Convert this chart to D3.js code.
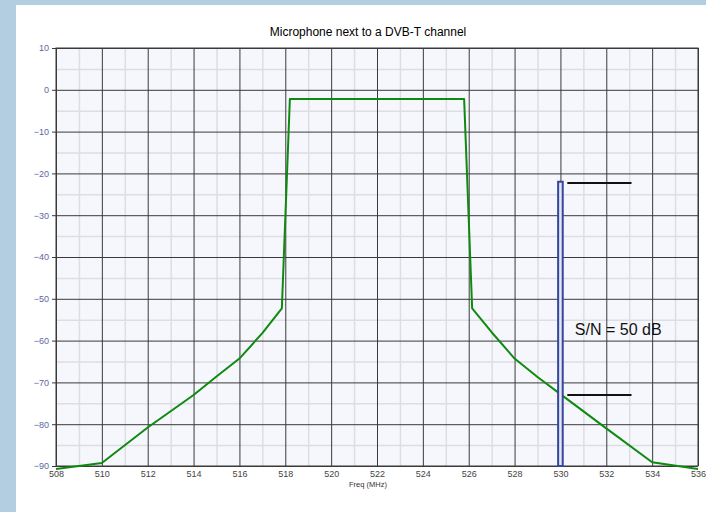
<!DOCTYPE html>
<html>
<head>
<meta charset="utf-8">
<script src="https://cdn.jsdelivr.net/npm/d3@7"></script>
<style>
  body { margin: 0; background: #b3cde1; }
  svg { display: block; font-family: Arial, "Liberation Sans", sans-serif; }
</style>
</head>
<body>
<div id="chart"></div>
<script>
// spectrum of the DVB-T channel (MHz, dB)
var freqs  = [508, 510, 512, 514, 515, 516, 517, 517.85, 518.2, 525.8, 526.15, 527, 528, 529, 530, 532, 534, 536];
var levels = [-90.7, -89.3, -80.8, -73, -68.6, -64.3, -58.2, -52.3, -2.2, -2.2, -52.3, -58, -64.3, -68.7, -72.8, -81, -89.1, -90.7];

// microphone carrier
var micFreq = [529.9, 530.1];
var micLevel = -22;

// S/N marker lines
var markerFreq = [530.3, 533.1];
var markerLevels = [-22.3, -73];
var snText = "S/N = 50 dB";
var snPos = [530.63, -58.7];

var xTicks = d3.range(508, 537, 2);
var xMinor = d3.range(509, 536, 2);
var yTicks = d3.range(-90, 11, 10);
var yMinor = d3.range(-85, 10, 10);

var w = 706, h = 512;
var plotL = 56, plotR = 698, plotT = 48, plotB = 466;

var svg = d3.select("#chart").append("svg")
    .attr("width", w)
    .attr("height", h);

// white panel
svg.append("rect")
    .attr("x", 16).attr("y", 5)
    .attr("width", w - 16).attr("height", h - 5)
    .attr("fill", "#ffffff");

var x = d3.scaleLinear().domain([508, 536]).range([plotL, plotR]);
var y = d3.scaleLinear().domain([-90, 10]).range([plotB, plotT]);

svg.append("rect")
    .attr("x", plotL).attr("y", plotT)
    .attr("width", plotR - plotL).attr("height", plotB - plotT)
    .attr("fill", "#f6f7fc");

// minor grid
svg.append("g")
    .attr("transform", "translate(0," + plotB + ")")
    .call(d3.axisBottom(x).tickValues(xMinor).tickSize(-(plotB - plotT)).tickFormat(""))
    .call(function(g) { g.select(".domain").remove(); })
    .selectAll("line").attr("stroke", "#dedde3").attr("stroke-width", 1.5);

svg.append("g")
    .attr("transform", "translate(" + plotL + ",0)")
    .call(d3.axisLeft(y).tickValues(yMinor).tickSize(-(plotR - plotL)).tickFormat(""))
    .call(function(g) { g.select(".domain").remove(); })
    .selectAll("line").attr("stroke", "#dedde3").attr("stroke-width", 1.5);

// major grid
svg.append("g")
    .attr("transform", "translate(0," + plotB + ")")
    .call(d3.axisBottom(x).tickValues(xTicks).tickSize(-(plotB - plotT)).tickFormat(""))
    .call(function(g) { g.select(".domain").remove(); })
    .selectAll("line").attr("stroke", "#3a3a3a");

svg.append("g")
    .attr("transform", "translate(" + plotR + ",0)")
    .call(d3.axisLeft(y).tickValues(yTicks).tickSize(plotR - plotL).tickFormat(""))
    .call(function(g) { g.select(".domain").remove(); })
    .selectAll("line").attr("stroke", "#3a3a3a");

svg.append("rect")
    .attr("x", plotL).attr("y", plotT)
    .attr("width", plotR - plotL).attr("height", plotB - plotT)
    .attr("fill", "none")
    .attr("stroke", "#3a3a3a");

// axes with labels
var yAxis = svg.append("g")
    .attr("transform", "translate(" + plotL + ",0)")
    .call(d3.axisLeft(y).tickValues(yTicks).tickSize(4).tickPadding(3));
yAxis.select(".domain").remove();
yAxis.selectAll("line").attr("stroke", "#3a3a3a");
yAxis.selectAll("text").attr("fill", "#5a68a6").attr("font-size", 9).attr("font-family", "Arial, 'Liberation Sans', sans-serif");

var xAxis = svg.append("g")
    .attr("transform", "translate(0," + plotB + ")")
    .call(d3.axisBottom(x).tickValues(xTicks).tickSize(0).tickPadding(5));
xAxis.select(".domain").remove();
xAxis.selectAll("text").attr("fill", "#444").attr("font-size", 9).attr("font-family", "Arial, 'Liberation Sans', sans-serif");

// spectrum curve
var line = d3.line()
    .x(function(d, i) { return x(freqs[i]); })
    .y(function(d) { return y(d); });

svg.append("path")
    .datum(levels)
    .attr("d", line)
    .attr("fill", "none")
    .attr("stroke", "#0f8a10")
    .attr("stroke-width", 2)
    .attr("stroke-linejoin", "round");

// microphone bar
svg.append("rect")
    .attr("x", x(micFreq[0]))
    .attr("y", y(micLevel))
    .attr("width", x(micFreq[1]) - x(micFreq[0]))
    .attr("height", y(-90) - y(micLevel))
    .attr("fill", "#e4e7ef")
    .attr("stroke", "#34479e")
    .attr("stroke-width", 2);

// S/N markers
svg.selectAll(".marker")
    .data(markerLevels)
    .enter()
    .append("line")
    .attr("class", "marker")
    .attr("x1", x(markerFreq[0]))
    .attr("x2", x(markerFreq[1]))
    .attr("y1", function(d) { return y(d); })
    .attr("y2", function(d) { return y(d); })
    .attr("stroke", "#111")
    .attr("stroke-width", 2);

svg.append("text")
    .attr("x", x(snPos[0]))
    .attr("y", y(snPos[1]))
    .attr("font-size", 16)
    .attr("fill", "#111")
    .text(snText);

// title and axis label
svg.append("text")
    .attr("x", 368).attr("y", 36)
    .attr("text-anchor", "middle")
    .attr("font-size", 12)
    .attr("fill", "#000")
    .text("Microphone next to a DVB-T channel");

svg.append("text")
    .attr("x", 368).attr("y", 487)
    .attr("text-anchor", "middle")
    .attr("font-size", 7.5)
    .attr("fill", "#333")
    .text("Freq (MHz)");
</script>
</body>
</html>
